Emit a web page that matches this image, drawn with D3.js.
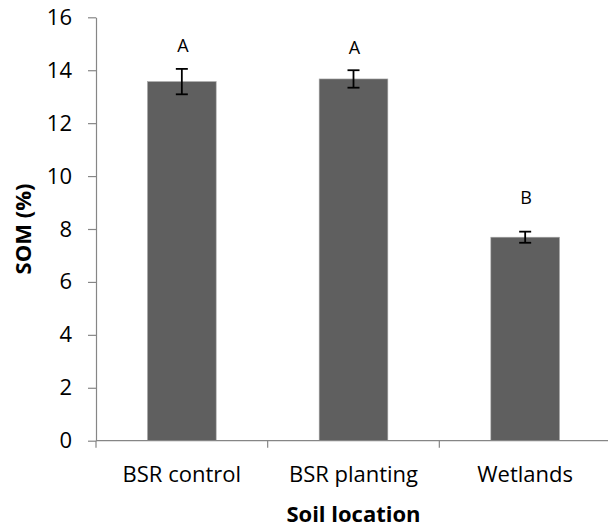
<!DOCTYPE html>
<html>
<head>
<meta charset="utf-8">
<script src="https://cdn.jsdelivr.net/npm/d3@7"></script>
<style>
  body { margin: 0; background: #fff; }
  text { font-family: "Open Sans", "DejaVu Sans", sans-serif; fill: #000; }
</style>
</head>
<body>
<div id="canvas"></div>
<script>
"use strict";

/* Data */
let locations = ["BSR control", "BSR planting", "Wetlands"];
let somMeans = [13.57, 13.67, 7.69];
let somErrors = [0.48, 0.33, 0.21];
let letters = ["A", "A", "B"];
let letterAt = [14.68, 14.61, 8.94]; // label baseline, in SOM units
let yTicks = [0, 2, 4, 6, 8, 10, 12, 14, 16];

/* Drawing config */
let svgWidth = 608;
let svgHeight = 529;
let plotLeft = 96;
let plotRight = 611;
let plotTop = 17.3;
let plotBottom = 440.7;

let svg = d3.select("#canvas")
  .append("svg")
  .attr("width", svgWidth)
  .attr("height", svgHeight);

svg.append("rect")
  .attr("width", svgWidth)
  .attr("height", svgHeight)
  .attr("fill", "#fff");

/* Scales */
let xScale = d3.scaleBand()
  .domain(locations)
  .range([plotLeft, plotRight])
  .paddingInner(0.6)
  .paddingOuter(0.3);

let yScale = d3.scaleLinear()
  .domain([0, 16])
  .range([plotBottom, plotTop]);

let rows = locations.map((name, i) => ({
  name: name,
  mean: somMeans[i],
  err: somErrors[i],
  letter: letters[i],
  letterY: letterAt[i]
}));

/* Bars */
svg.selectAll("rect.bar")
  .data(rows)
  .enter()
  .append("rect")
  .attr("class", "bar")
  .attr("x", d => xScale(d.name))
  .attr("y", d => yScale(d.mean))
  .attr("width", xScale.bandwidth())
  .attr("height", d => yScale(0) - yScale(d.mean))
  .attr("fill", "#5f5f5f")
  .attr("stroke", "#a6a6a6")
  .attr("stroke-width", 0.6);

/* Y axis */
let yAxis = svg.append("g")
  .attr("transform", "translate(" + plotLeft + ",0)")
  .attr("font-size", null)
  .attr("font-family", null)
  .call(d3.axisLeft(yScale)
    .tickValues(yTicks)
    .tickSize(8)
    .tickPadding(16)
    .tickSizeOuter(0));

yAxis.select(".domain").attr("stroke", "#868686").attr("stroke-width", 1.2);
yAxis.selectAll(".tick line").attr("stroke", "#868686").attr("stroke-width", 1.2);
yAxis.selectAll(".tick text")
  .style("font-size", "22px")
  .style("font-family", "'Open Sans', sans-serif")
  .attr("fill", "#000");

/* X axis: line with ticks between categories */
let step = xScale.step();
let xStart = xScale(locations[0]) - xScale.paddingOuter() * step;
let boundaries = d3.range(locations.length + 1).map(i => xStart + i * step);

svg.append("line")
  .attr("x1", plotLeft)
  .attr("x2", svgWidth)
  .attr("y1", yScale(0))
  .attr("y2", yScale(0))
  .attr("stroke", "#868686")
  .attr("stroke-width", 1.2);

svg.selectAll("line.xtick")
  .data(boundaries)
  .enter()
  .append("line")
  .attr("class", "xtick")
  .attr("x1", d => d)
  .attr("x2", d => d)
  .attr("y1", yScale(0))
  .attr("y2", yScale(0) + 7)
  .attr("stroke", "#868686")
  .attr("stroke-width", 1.2);

svg.selectAll("text.xlabel")
  .data(locations)
  .enter()
  .append("text")
  .attr("class", "xlabel")
  .attr("x", d => xScale(d) + xScale.bandwidth() / 2)
  .attr("y", 482)
  .attr("text-anchor", "middle")
  .style("font-size", "22px")
  .text(d => d);

/* Error bars */
let errG = svg.selectAll("g.err")
  .data(rows)
  .enter()
  .append("g")
  .attr("class", "err");

errG.append("line")
  .attr("x1", d => xScale(d.name) + xScale.bandwidth() / 2)
  .attr("x2", d => xScale(d.name) + xScale.bandwidth() / 2)
  .attr("y1", d => yScale(d.mean - d.err))
  .attr("y2", d => yScale(d.mean + d.err))
  .attr("stroke", "#000")
  .attr("stroke-width", 1.8);

[-1, 1].forEach(sign => {
  errG.append("line")
    .attr("x1", d => xScale(d.name) + xScale.bandwidth() / 2 - 6)
    .attr("x2", d => xScale(d.name) + xScale.bandwidth() / 2 + 6)
    .attr("y1", d => yScale(d.mean + sign * d.err))
    .attr("y2", d => yScale(d.mean + sign * d.err))
    .attr("stroke", "#000")
    .attr("stroke-width", 1.8);
});

/* Significance letters */
svg.selectAll("text.letter")
  .data(rows)
  .enter()
  .append("text")
  .attr("class", "letter")
  .attr("x", d => xScale(d.name) + xScale.bandwidth() / 2 + 1)
  .attr("y", d => yScale(d.letterY))
  .attr("text-anchor", "middle")
  .style("font-size", "18px")
  .text(d => d.letter);

/* Axis titles */
svg.append("text")
  .attr("x", (plotLeft + plotRight) / 2)
  .attr("y", 521.5)
  .attr("text-anchor", "middle")
  .style("font-size", "22px")
  .attr("font-weight", "bold")
  .text("Soil location");

svg.append("text")
  .attr("transform", "translate(31," + ((plotTop + plotBottom) / 2) + ") rotate(-90)")
  .attr("text-anchor", "middle")
  .style("font-size", "22px")
  .attr("font-weight", "bold")
  .text("SOM (%)");
</script>
</body>
</html>
